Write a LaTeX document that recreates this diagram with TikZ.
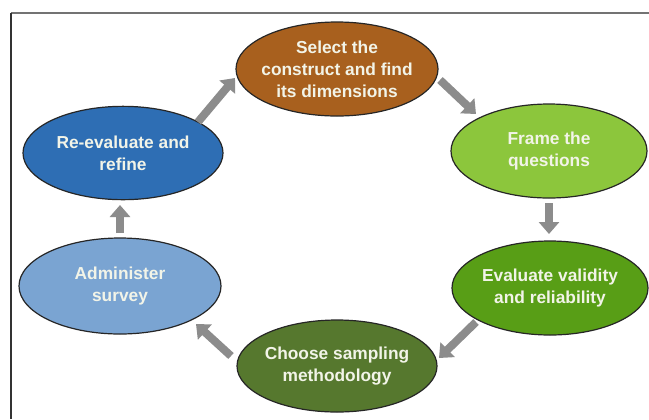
\documentclass[tikz,border=0pt]{standalone}
\usepackage{fontspec}
\setmainfont{Liberation Sans}
\usetikzlibrary{shapes.geometric,arrows.meta}
\definecolor{cbrown}{RGB}{168,96,30}
\definecolor{cgreenA}{RGB}{140,198,60}
\definecolor{cgreenB}{RGB}{88,158,22}
\definecolor{cgreenC}{RGB}{86,120,46}
\definecolor{cblueA}{RGB}{46,110,180}
\definecolor{cblueB}{RGB}{122,164,210}
\definecolor{ctext}{RGB}{242,244,232}
\definecolor{carrow}{RGB}{140,140,140}
\tikzset{
  stage/.style={ellipse, draw={black!85}, line width=0.9pt, inner sep=0pt},
  stagetext/.style={text=ctext, align=center, inner sep=0pt,
    font=\fontsize{13}{16.5}\selectfont\bfseries},
  flow/.style={draw=carrow, line width=6pt,
    -{Triangle[width=15pt,length=9pt]}},
}
\begin{document}
\begin{tikzpicture}[x=0.75pt,y=-0.75pt]
\useasboundingbox (0,0) rectangle (649,419);
\fill[white] (0,0) rectangle (649,419);
% frame
\draw[line width=1.2pt, black!55] (11,13) -- (649,13);
\draw[line width=1.2pt, black!80] (11,13) -- (11,419);
% stages
\node[stage, fill=cbrown, minimum width=151.5pt, minimum height=70.5pt,
  label={[stagetext]center:Select the\\construct and find\\its dimensions}] (sel) at (337,69) {};
\node[stage, fill=cgreenA, minimum width=147pt, minimum height=70.5pt,
  label={[stagetext]center:Frame the\\questions}] (frm) at (549,151) {};
\node[stage, fill=cgreenB, minimum width=147pt, minimum height=70.5pt,
  label={[stagetext]center:Evaluate validity\\and reliability}] (evl) at (550,288) {};
\node[stage, fill=cgreenC, minimum width=150pt, minimum height=69pt,
  label={[stagetext]center:Choose sampling\\methodology}] (cho) at (337,366) {};
\node[stage, fill=cblueB, minimum width=151.5pt, minimum height=72pt,
  label={[stagetext]center:Administer\\survey}] (adm) at (120,286) {};
\node[stage, fill=cblueA, minimum width=150pt, minimum height=70pt,
  label={[stagetext]center:Re-evaluate and\\refine}] (ref) at (123,153) {};
% arrow end points
\coordinate (a1s) at (198,122); \coordinate (a1e) at (235,78);
\coordinate (a2s) at (440,80);  \coordinate (a2e) at (476,114);
\coordinate (a3s) at (549,203); \coordinate (a3e) at (549,234);
\coordinate (a4s) at (476,322); \coordinate (a4e) at (439,358);
\coordinate (a5s) at (231,356); \coordinate (a5e) at (196,324);
\coordinate (a6s) at (120,233); \coordinate (a6e) at (120,205);
\draw[flow] (a1s) -- (a1e);
\draw[flow] (a2s) -- (a2e);
\draw[flow] (a3s) -- (a3e);
\draw[flow] (a4s) -- (a4e);
\draw[flow] (a5s) -- (a5e);
\draw[flow] (a6s) -- (a6e);
\end{tikzpicture}
\end{document}
